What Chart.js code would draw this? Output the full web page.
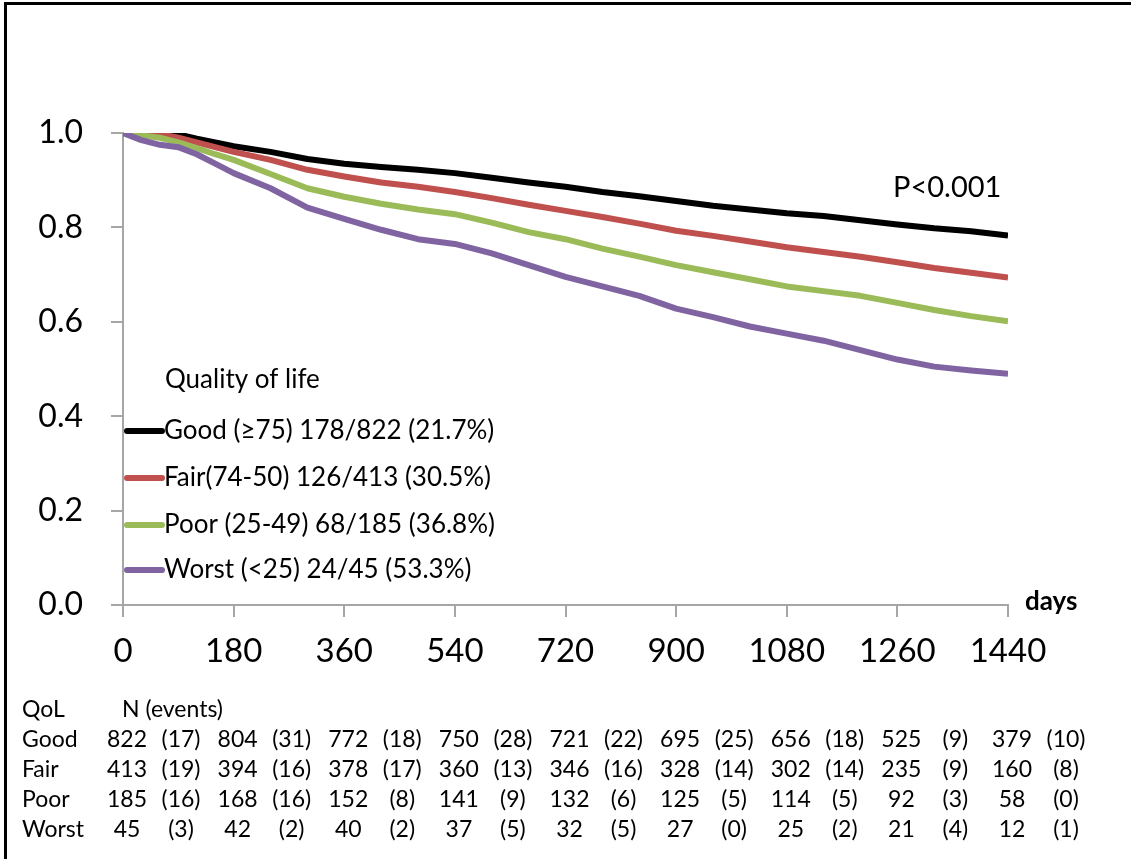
<!DOCTYPE html>
<html>
<head>
<meta charset="utf-8">
<script src="https://cdn.jsdelivr.net/npm/chart.js@4.4.1/dist/chart.umd.min.js"></script>
<style>
  html, body { margin: 0; padding: 0; background: #fff; }
  canvas { display: block; }
</style>
</head>
<body>
<canvas id="c" width="1131" height="859"></canvas>
<script>
// ---- data ----
const times = [0, 30, 60, 90, 120, 150, 180, 240, 300, 360, 420, 480, 540, 600, 660, 720, 780, 840, 900, 960, 1020, 1080, 1140, 1200, 1260, 1320, 1380, 1440];
const goodSurv  = [1.0, 1.0, 1.0, 0.997, 0.988, 0.98, 0.972, 0.96, 0.945, 0.935, 0.928, 0.922, 0.915, 0.905, 0.895, 0.886, 0.875, 0.866, 0.856, 0.846, 0.838, 0.83, 0.824, 0.815, 0.806, 0.798, 0.792, 0.783];
const fairSurv  = [1.0, 1.0, 0.998, 0.99, 0.98, 0.97, 0.96, 0.943, 0.922, 0.908, 0.895, 0.886, 0.875, 0.862, 0.848, 0.835, 0.822, 0.808, 0.793, 0.782, 0.77, 0.758, 0.748, 0.738, 0.726, 0.714, 0.704, 0.694];
const poorSurv  = [1.0, 0.995, 0.99, 0.98, 0.968, 0.955, 0.943, 0.913, 0.883, 0.865, 0.85, 0.838, 0.828, 0.81, 0.79, 0.775, 0.755, 0.738, 0.72, 0.705, 0.69, 0.675, 0.665, 0.655, 0.64, 0.625, 0.612, 0.601];
const worstSurv = [1.0, 0.985, 0.975, 0.97, 0.955, 0.935, 0.915, 0.883, 0.842, 0.818, 0.795, 0.775, 0.765, 0.745, 0.72, 0.695, 0.675, 0.655, 0.628, 0.61, 0.59, 0.575, 0.56, 0.54, 0.52, 0.505, 0.497, 0.49];

const seriesLabels = ["Good (\u226575) 178/822 (21.7%)", "Fair(74-50) 126/413 (30.5%)", "Poor (25-49) 68/185 (36.8%)", "Worst (<25) 24/45 (53.3%)"];
const legendTitle = "Quality of life";
const pValueText = "P<0.001";
const xAxisTitle = "days";

const xTicks = [0, 180, 360, 540, 720, 900, 1080, 1260, 1440];
const yTicks = [0.0, 0.2, 0.4, 0.6, 0.8, 1.0];

const tableRowLabels = ["Good", "Fair", "Poor", "Worst"];
const tableHeader = ["QoL", "N (events)"];
const atRiskGood  = [822, 804, 772, 750, 721, 695, 656, 525, 379];
const eventsGood  = [17, 31, 18, 28, 22, 25, 18, 9, 10];
const atRiskFair  = [413, 394, 378, 360, 346, 328, 302, 235, 160];
const eventsFair  = [19, 16, 17, 13, 16, 14, 14, 9, 8];
const atRiskPoor  = [185, 168, 152, 141, 132, 125, 114, 92, 58];
const eventsPoor  = [16, 16, 8, 9, 6, 5, 5, 3, 0];
const atRiskWorst = [45, 42, 40, 37, 32, 27, 25, 21, 12];
const eventsWorst = [3, 2, 2, 5, 5, 0, 2, 4, 1];

const colors = ["#000000", "#c0504d", "#9bbb59", "#8064a2"];
const FONT = "Lato, 'Open Sans', sans-serif";

const survAll = [goodSurv, fairSurv, poorSurv, worstSurv];
const atRiskAll = [atRiskGood, atRiskFair, atRiskPoor, atRiskWorst];
const eventsAll = [eventsGood, eventsFair, eventsPoor, eventsWorst];

const datasets = survAll.map((s, i) => ({
  label: seriesLabels[i],
  data: times.map((t, j) => ({ x: t, y: s[j] })),
  borderColor: colors[i],
  backgroundColor: colors[i],
  borderWidth: 6,
  pointRadius: 0,
  tension: 0,
  fill: false,
  borderJoinStyle: 'round'
})).reverse();

const overlay = {
  id: 'overlay',
  afterDraw(chart) {
    const ctx = chart.ctx;
    const xs = chart.scales.x;
    ctx.save();
    // frame lines
    ctx.fillStyle = '#000';
    ctx.fillRect(4, 2, 3, 857);
    ctx.fillRect(4, 2, 1127, 3);

    ctx.fillStyle = '#000';
    ctx.textBaseline = 'middle';
    // P value
    ctx.font = "29px " + FONT;
    ctx.textAlign = 'left';
    ctx.fillText(pValueText, 893, 188);
    // axis title
    ctx.font = "bold 26px " + FONT;
    ctx.fillText(xAxisTitle, 1025, 602);

    // legend
    ctx.font = "26px " + FONT;
    ctx.fillText(legendTitle, 165, 380);
    const ly = [431, 478, 525, 570];
    seriesLabels.forEach((lab, i) => {
      ctx.strokeStyle = colors[i];
      ctx.lineWidth = 6;
      ctx.lineCap = 'round';
      ctx.beginPath();
      ctx.moveTo(127, ly[i]);
      ctx.lineTo(162, ly[i]);
      ctx.stroke();
      ctx.fillStyle = '#000';
      ctx.fillText(lab, 164, ly[i]);
    });

    // at-risk table
    ctx.font = "23px " + FONT;
    ctx.textAlign = 'left';
    ctx.fillText(tableHeader[0], 22, 710);
    ctx.fillText(tableHeader[1], 122, 710);
    const rowY = [740, 770, 800, 830];
    tableRowLabels.forEach((lab, r) => {
      ctx.textAlign = 'left';
      ctx.fillText(lab, 22, rowY[r]);
      ctx.textAlign = 'center';
      xTicks.forEach((t, c) => {
        const px = xs.getPixelForValue(t);
        ctx.fillText(String(atRiskAll[r][c]), px + 4, rowY[r]);
        ctx.fillText("(" + eventsAll[r][c] + ")", px + 58, rowY[r]);
      });
    });
    ctx.restore();
  }
};

new Chart(document.getElementById('c'), {
  type: 'line',
  data: { datasets },
  options: {
    responsive: false,
    animation: false,
    layout: { padding: { left: 0, right: 123, top: 133, bottom: 0 } },
    plugins: { legend: { display: false }, tooltip: { enabled: false } },
    scales: {
      x: {
        type: 'linear',
        min: 0, max: 1440,
        afterFit(s) { s.height = 254; },
        afterBuildTicks(s) { s.ticks = xTicks.map(v => ({ value: v })); },
        grid: { display: true, drawOnChartArea: false, drawTicks: true, tickLength: 12, color: '#a6a6a6', lineWidth: 2 },
        border: { display: true, color: '#a6a6a6', width: 2 },
        ticks: { font: { family: FONT, size: 33 }, color: '#000', padding: 15, maxRotation: 0, callback: v => String(v) }
      },
      y: {
        min: 0, max: 1.0,
        afterFit(s) { s.width = 123; },
        afterBuildTicks(s) { s.ticks = yTicks.map(v => ({ value: v })); },
        grid: { display: true, drawOnChartArea: false, drawTicks: true, tickLength: 12, color: '#a6a6a6', lineWidth: 2 },
        border: { display: true, color: '#a6a6a6', width: 2 },
        ticks: { font: { family: FONT, size: 32 }, color: '#000', padding: 28, callback: v => Number(v).toFixed(1) }
      }
    }
  },
  plugins: [overlay]
});
</script>
</body>
</html>
